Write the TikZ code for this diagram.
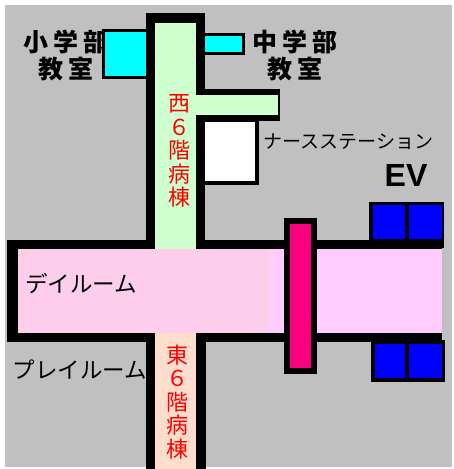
\documentclass[tikz,border=0pt]{standalone}
\usepackage{fontspec}
\usepackage{xcolor}
\newfontfamily\jp{Noto Sans CJK JP}
\newfontfamily\jpwide{Noto Sans CJK JP}[LetterSpace=20]
\newfontfamily\evfont{Liberation Sans}
\definecolor{floorbg}{RGB}{192,192,192}
\definecolor{westfill}{RGB}{206,255,206}
\definecolor{eastfill}{RGB}{255,221,204}
\definecolor{dayfill}{RGB}{252,206,236}
\definecolor{hallfill}{RGB}{255,204,255}
\definecolor{classfill}{RGB}{0,255,255}
\definecolor{doorfill}{RGB}{250,0,128}
\definecolor{evfill}{RGB}{0,0,255}
\tikzstyle{wall} = [fill=black]
\tikzstyle{classname} = [inner sep=0pt, align=center,
font=\jpwide\bfseries\fontsize{25}{27}\selectfont]
\tikzstyle{roomname} = [inner sep=0pt, font=\jp\fontsize{22.5}{24}\selectfont]
\tikzstyle{wardname} = [inner sep=0pt, align=center, text=red,
font=\jp\fontsize{22}{23.6}\selectfont]

\begin{document}
\begin{tikzpicture}[
    x=1pt, y=-1pt, % pixel grid, y going down
  ]
    \useasboundingbox (0,0) rectangle (454,469);
    \fill[white] (0,0) rectangle (454,469);
    \fill[floorbg] (5,5) rectangle (452,467);

    % class rooms
    \node[classname] (shogaku) at (66,55.5) {小学部\\教室};
    \node[classname] (chugaku) at (295,55.5) {中学部\\教室};
    \fill[wall]      (102,29) rectangle (147,79);
    \fill[classfill] (105,32) rectangle (147,76);
    \fill[wall]      (196,33) rectangle (245,55);
    \fill[classfill] (205,36) rectangle (242,52);

    % walls
    \fill[wall] (146,13) rectangle (205,245);
    \fill[wall] (7,240) rectangle (442,342);
    \fill[wall] (146,333) rectangle (206,469);
    \fill[wall] (196,89) rectangle (280,121);
    \fill[wall] (196,115) rectangle (259,185);

    % corridors
    \fill[westfill] (155,23) rectangle (196,249);
    \fill[westfill] (196,95) rectangle (278,115);
    \fill[white]    (205,122) rectangle (255,181);
    \fill[dayfill]  (18,249) rectangle (270,333);
    \fill[hallfill] (270,249) rectangle (442,333);
    \fill[eastfill] (155,333) rectangle (196,469);

    % door
    \fill[wall]     (284,218) rectangle (317,374);
    \fill[doorfill] (290,224) rectangle (311,368);

    % lifts
    \fill[wall]   (369,202) rectangle (444,248);
    \fill[evfill] (373,205) rectangle (405,239);
    \fill[evfill] (409,205) rectangle (442,239);
    \fill[wall]   (371,340) rectangle (445,382);
    \fill[evfill] (375,344) rectangle (405,378);
    \fill[evfill] (409,344) rectangle (442,378);

    \node[roomname, font=\jp\fontsize{19}{20}\selectfont] (nurse) at (348.5,141.5) {ナースステーション};
    \node[inner sep=0pt, font=\evfont\bfseries\fontsize{32}{34}\selectfont] (ev) at (406,175) {EV};
    \node[roomname] (dayroom)  at (81,284)  {デイルーム};
    \node[roomname] (playroom) at (80,370)  {プレイルーム};
    \node[wardname] (west) at (179,151)   {西\\６\\階\\病\\棟};
    \node[wardname] (east) at (177.5,402) {東\\６\\階\\病\\棟};
  \end{tikzpicture}
\end{document}
